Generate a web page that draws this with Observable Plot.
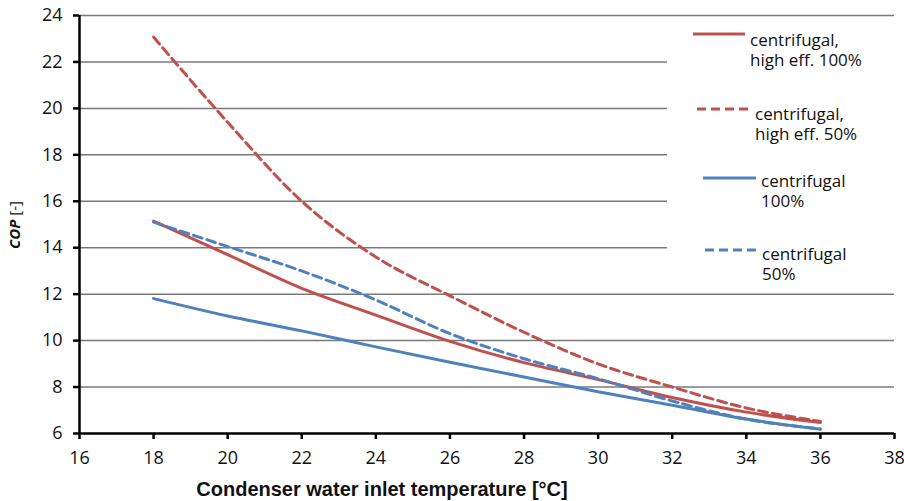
<!DOCTYPE html>
<html>
<head>
<meta charset="utf-8">
<script src="https://cdn.jsdelivr.net/npm/d3@7"></script>
<script src="https://cdn.jsdelivr.net/npm/@observablehq/plot@0.6"></script>
<style>
  html, body { margin: 0; padding: 0; background: #fff; }
  #chart { position: relative; width: 904px; height: 501px; font-family: "Open Sans", sans-serif; }
  #legend { position: absolute; left: 667px; top: 18px; width: 234px; height: 268px; background: #fff; }
  .entry { position: absolute; }
  .entry svg { position: absolute; overflow: visible; }
  .entry .lab { position: absolute; font-size: 17px; line-height: 20px; color: #111; white-space: pre; }
</style>
</head>
<body>
<div id="chart"></div>
<script>
// ---- data ----
const temps = [18, 20, 22, 24, 26, 28, 30, 32, 34, 36];
const hiEff100 = [15.15, 13.7, 12.25, 11.1, 9.97, 9.05, 8.32, 7.55, 6.92, 6.47];
const hiEff50  = [23.07, 19.4, 16.0, 13.6, 11.93, 10.36, 9.0, 8.0, 7.1, 6.52];
const cent100  = [11.81, 11.06, 10.42, 9.73, 9.07, 8.43, 7.8, 7.22, 6.62, 6.18];
const cent50   = [15.1, 14.05, 13.0, 11.75, 10.3, 9.22, 8.36, 7.4, 6.62, 6.2];
const seriesNames = ["centrifugal,\nhigh eff. 100%", "centrifugal,\nhigh eff. 50%", "centrifugal\n100%", "centrifugal\n50%"];
const seriesValues = [hiEff100, hiEff50, cent100, cent50];
const seriesColors = ["#C0504D", "#C0504D", "#4F81BD", "#4F81BD"];
const seriesDash = [null, "9,5", null, "9,5"];
const xTicks = [16, 18, 20, 22, 24, 26, 28, 30, 32, 34, 36, 38];
const yTicks = [6, 8, 10, 12, 14, 16, 18, 20, 22, 24];
const xLabel = "Condenser water inlet temperature [°C]";
const yLabelBold = "COP";
const yLabelRest = " [-]";

// ---- layout (styles only) ----
const legendLayout = [
  {sx: 26, sw: 52, sy: 16, tx: 83, ty: 12},
  {sx: 30, sw: 53, sy: 91, tx: 88, ty: 86},
  {sx: 36, sw: 53, sy: 160, tx: 94, ty: 153},
  {sx: 38, sw: 53, sy: 232, tx: 95, ty: 226}
];

const series = seriesNames.map((name, i) => ({
  name, color: seriesColors[i], dash: seriesDash[i],
  rows: temps.map((t, j) => ({x: t, y: seriesValues[i][j]}))
}));

const plot = Plot.plot({
  width: 904,
  height: 501,
  marginLeft: 79,
  marginRight: 10,
  marginTop: 15,
  marginBottom: 68,
  style: {fontFamily: "Open Sans, sans-serif", fontSize: "18px", color: "#111", background: "#fff"},
  x: {domain: [16, 38]},
  y: {domain: [6, 24]},
  marks: [
    Plot.ruleY(yTicks.filter(d => d > 6), {stroke: "#7a7a7a", strokeWidth: 1.5}),
    ...series.map(s => Plot.line(s.rows, {
      x: "x", y: "y", stroke: s.color, strokeWidth: 3,
      strokeDasharray: s.dash || undefined, curve: "monotone-x"
    })),
    Plot.axisX({ticks: xTicks, tickSize: 6, tickPadding: 12, strokeWidth: 2.5, stroke: "#000", label: null, fontSize: 18}),
    Plot.axisY({ticks: yTicks, tickSize: 6, tickPadding: 11, strokeWidth: 2.5, stroke: "#000", label: null, fontSize: 18}),
    Plot.ruleY([6], {stroke: "#000", strokeWidth: 2.5}),
    Plot.ruleX([16], {stroke: "#000", strokeWidth: 2.5})
  ]
});

const chart = document.getElementById("chart");
chart.appendChild(plot);

const svg = d3.select(plot);
// x axis title
svg.append("text")
  .attr("x", 382).attr("y", 491)
  .attr("text-anchor", "middle").attr("dominant-baseline", "middle")
  .style("font-family", "Liberation Sans, Arial, sans-serif")
  .style("font-weight", "bold").style("font-size", "20px").attr("fill", "#111")
  .text(xLabel);
// y axis title
const yt = svg.append("text")
  .attr("transform", "translate(16,225) rotate(-90)")
  .attr("text-anchor", "middle").attr("dominant-baseline", "middle")
  .style("font-family", "Open Sans, sans-serif").style("font-size", "15px").attr("fill", "#111");
yt.append("tspan").style("font-weight", "bold").style("font-style", "italic").text(yLabelBold);
yt.append("tspan").text(yLabelRest);

// legend
const legend = d3.select(chart).append("div").attr("id", "legend");
series.forEach((s, i) => {
  const L = legendLayout[i];
  const e = legend.append("div").attr("class", "entry");
  const sw = e.append("svg").attr("width", L.sw).attr("height", 4)
    .style("left", L.sx + "px").style("top", (L.sy - 2) + "px");
  sw.append("line").attr("x1", 0).attr("x2", L.sw).attr("y1", 2).attr("y2", 2)
    .attr("stroke", s.color).attr("stroke-width", 3)
    .attr("stroke-dasharray", s.dash);
  e.append("div").attr("class", "lab")
    .style("left", L.tx + "px").style("top", L.ty + "px")
    .text(s.name);
});
</script>
</body>
</html>
